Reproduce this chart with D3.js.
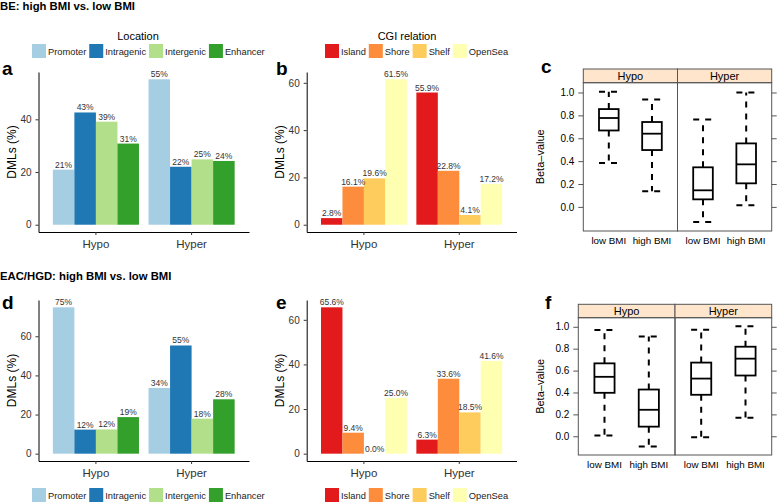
<!DOCTYPE html>
<html><head><meta charset="utf-8">
<script src="https://cdn.jsdelivr.net/npm/d3@7"></script>
<style>
body{margin:0;background:#fff}
svg{display:block}
text{font-family:"Liberation Sans",Arial,Helvetica,sans-serif}
</style>
</head><body>
<svg id="fig" width="778" height="504"></svg>
<script>
// ---------------- data ----------------
const groups = ["Hypo", "Hyper"];
const locCats = ["Promoter", "Intragenic", "Intergenic", "Enhancer"];
const locColors = ["#a6cee3", "#1f78b4", "#b2df8a", "#33a02c"];
const cgiCats = ["Island", "Shore", "Shelf", "OpenSea"];
const cgiColors = ["#e31a1c", "#fd8d3c", "#fecc5c", "#ffffb2"];

// panel a (BE, location)
const beLocHypo = [20.9, 42.6, 39.1, 30.8];
const beLocHyper = [55.2, 22.0, 24.8, 24.2];
// panel b (BE, CGI)
const beCgiHypo = [2.8, 16.1, 19.6, 61.5];
const beCgiHyper = [55.9, 22.8, 4.1, 17.2];
// panel d (EAC/HGD, location)
const eacLocHypo = [74.8, 12.3, 12.4, 18.7];
const eacLocHyper = [33.6, 55.3, 17.9, 27.8];
// panel e (EAC/HGD, CGI)
const eacCgiHypo = [65.6, 9.4, 0.0, 25.0];
const eacCgiHyper = [6.3, 33.6, 18.5, 41.6];

const pctTicks = [0, 20, 40, 60];

// box stats: [lower whisker, Q1, median, Q3, upper whisker]
const bmiCats = ["low BMI", "high BMI"];
const beBoxHypo = [[0.384, 0.668, 0.777, 0.855, 1.006], [0.136, 0.497, 0.640, 0.742, 0.939]];
const beBoxHyper = [[-0.131, 0.066, 0.145, 0.346, 0.765], [0.014, 0.206, 0.372, 0.555, 1.000]];
const eacBoxHypo = [[0.006, 0.397, 0.543, 0.666, 0.970], [-0.094, 0.088, 0.242, 0.427, 0.912]];
const eacBoxHyper = [[-0.009, 0.379, 0.527, 0.673, 0.973], [0.170, 0.555, 0.709, 0.818, 1.006]];
const betaTicks = [0, 0.2, 0.4, 0.6, 0.8, 1.0];

// ---------------- drawing ----------------
const svg = d3.select("#fig");
const FONT = '"Liberation Sans",Arial,Helvetica,sans-serif';

function barPanel(o) {
  const g = svg.append("g");
  const vals = [o.hypo, o.hyper];
  const maxV = d3.max(vals.flat());
  const y = d3.scaleLinear().domain([-0.05 * maxV, 1.05 * maxV]).range([o.yb, o.yt]);
  const x = d3.scaleBand().domain(groups).range([o.xl, o.xr]).paddingInner(0.1).paddingOuter(0.15);
  const xs = d3.scaleBand().domain(o.cats).range([0, x.bandwidth()]);

  groups.forEach((grp, gi) => {
    const gg = g.append("g").attr("transform", `translate(${x(grp)},0)`);
    gg.selectAll("rect").data(vals[gi]).join("rect")
      .attr("x", (d, i) => xs(o.cats[i]))
      .attr("width", xs.bandwidth())
      .attr("y", d => y(d))
      .attr("height", d => y(0) - y(d))
      .attr("fill", (d, i) => o.colors[i]);
    gg.selectAll("text").data(vals[gi]).join("text")
      .attr("x", (d, i) => xs(o.cats[i]) + xs.bandwidth() / 2)
      .attr("y", d => y(d) - 2)
      .attr("text-anchor", "middle")
      .attr("font-size", 8.5)
      .attr("fill", "#333")
      .text(d => d3.format(o.fmt)(d) + "%");
  });

  const ya = g.append("g").attr("transform", `translate(${o.xl},0)`)
    .call(d3.axisLeft(y).tickValues(pctTicks.filter(t => t <= 1.05 * maxV)).tickSize(3).tickPadding(4).tickSizeOuter(0));
  const xa = g.append("g").attr("transform", `translate(0,${o.yb})`)
    .call(d3.axisBottom(x).tickSize(3).tickPadding(5).tickSizeOuter(0));
  [ya, xa].forEach(a => {
    a.select(".domain").attr("stroke", "#000").attr("stroke-width", 1);
    a.selectAll(".tick line").attr("stroke", "#333");
    a.selectAll("text").attr("font-family", FONT).attr("fill", "#333");
  });
  ya.selectAll("text").attr("font-size", 10);
  xa.selectAll("text").attr("font-size", 11.5);

  g.append("text")
    .attr("transform", `translate(${o.xl - 23},${(o.yt + o.yb) / 2}) rotate(-90)`)
    .attr("text-anchor", "middle")
    .attr("font-size", 12)
    .attr("fill", "#000")
    .text("DMLs (%)");

  g.append("text").attr("x", o.lx).attr("y", o.ly)
    .attr("font-size", 19).attr("font-weight", "bold").text(o.label);
}

function legend(o) {
  const g = svg.append("g");
  if (o.title) {
    g.append("text").attr("x", o.tx).attr("y", o.ty).attr("text-anchor", "middle")
      .attr("font-size", 11).text(o.title);
  }
  let cx = o.x;
  o.cats.forEach((c, i) => {
    g.append("rect").attr("x", cx).attr("y", o.y).attr("width", 14).attr("height", 14)
      .attr("fill", o.colors[i]);
    const t = g.append("text").attr("x", cx + 16).attr("y", o.y + 11)
      .attr("font-size", 9.3).attr("fill", "#222").text(c);
    cx += 16 + t.node().getComputedTextLength() + 3;
  });
}

function boxPanel(o) {
  const g = svg.append("g");
  const all = [o.hypo, o.hyper].flat(2);
  const lo = d3.min(all), hi = d3.max(all), ext = (hi - lo) * 0.07;
  const y = d3.scaleLinear().domain([lo - ext, hi + ext]).range([o.yb, o.st2]);
  const mid = (o.xl + o.xr) / 2;
  const cols = [[o.xl, mid, "Hypo", o.hypo], [mid, o.xr, "Hyper", o.hyper]];

  cols.forEach(([a, b, name, stats]) => {
    const x = d3.scaleBand().domain(bmiCats).range([a, b]).paddingInner(0.5454).paddingOuter(0.3636);
    // strip
    g.append("rect").attr("x", a).attr("y", o.st1).attr("width", b - a).attr("height", o.st2 - o.st1)
      .attr("fill", "#ffe5cc").attr("stroke", "#555");
    g.append("text").attr("x", (a + b) / 2).attr("y", (o.st1 + o.st2) / 2 + 4)
      .attr("text-anchor", "middle").attr("font-size", 11).text(name);
    stats.forEach((s, i) => {
      const bx = x(bmiCats[i]), bw = x.bandwidth(), cx = bx + bw / 2;
      const dash = "6,6";
      // whiskers
      g.append("line").attr("x1", cx).attr("x2", cx).attr("y1", y(s[3])).attr("y2", y(s[4]))
        .attr("stroke", "#000").attr("stroke-width", 2).attr("stroke-dasharray", dash);
      g.append("line").attr("x1", cx).attr("x2", cx).attr("y1", y(s[1])).attr("y2", y(s[0]))
        .attr("stroke", "#000").attr("stroke-width", 2).attr("stroke-dasharray", dash);
      [s[0], s[4]].forEach(v => {
        g.append("line").attr("x1", bx).attr("x2", bx + bw).attr("y1", y(v)).attr("y2", y(v))
          .attr("stroke", "#000").attr("stroke-width", 2).attr("stroke-dasharray", dash);
      });
      // box
      g.append("rect").attr("x", bx).attr("y", y(s[3])).attr("width", bw).attr("height", y(s[1]) - y(s[3]))
        .attr("fill", "none").attr("stroke", "#000").attr("stroke-width", 1.8);
      g.append("line").attr("x1", bx).attr("x2", bx + bw).attr("y1", y(s[2])).attr("y2", y(s[2]))
        .attr("stroke", "#000").attr("stroke-width", 1.8);
      g.append("text").attr("x", cx).attr("y", o.yb + 13).attr("text-anchor", "middle")
        .attr("font-size", 9.8).text(bmiCats[i]);
    });
    g.append("rect").attr("x", a).attr("y", o.st2).attr("width", b - a).attr("height", o.yb - o.st2)
      .attr("fill", "none").attr("stroke", "#555");
  });

  const ya = g.append("g").attr("transform", `translate(${o.xl},0)`)
    .call(d3.axisLeft(y).tickValues(betaTicks).tickFormat(d3.format(".1f")).tickSize(5).tickPadding(4).tickSizeOuter(0));
  const yr = g.append("g").attr("transform", `translate(${o.xr},0)`)
    .call(d3.axisRight(y).tickValues(betaTicks).tickSize(5).tickFormat("").tickSizeOuter(0));
  [ya, yr].forEach(a => {
    a.select(".domain").remove();
    a.selectAll(".tick line").attr("stroke", "#555");
  });
  ya.selectAll("text").attr("font-family", FONT).attr("font-size", 10).attr("fill", "#000");

  g.append("text")
    .attr("transform", `translate(${o.tlx},${(o.st2 + o.yb) / 2}) rotate(-90)`)
    .attr("text-anchor", "middle").attr("font-size", 11).text("Beta\u2013value");

  g.append("text").attr("x", o.lx).attr("y", o.ly)
    .attr("font-size", 19).attr("font-weight", "bold").text(o.label);
}

// titles
svg.append("text").attr("x", 0).attr("y", 10).attr("font-size", 11.3).attr("font-weight", "bold")
  .text("BE: high BMI vs. low BMI");
svg.append("text").attr("x", 0).attr("y", 280).attr("font-size", 11.3).attr("font-weight", "bold")
  .text("EAC/HGD: high BMI vs. low BMI");

// legends
legend({x: 32, y: 44, cats: locCats, colors: locColors, title: "Location", tx: 138, ty: 40});
legend({x: 325, y: 44, cats: cgiCats, colors: cgiColors, title: "CGI relation", tx: 407, ty: 40});
legend({x: 32, y: 488, cats: locCats, colors: locColors});
legend({x: 325, y: 488, cats: cgiCats, colors: cgiColors});

// bar panels
barPanel({xl: 38.5, xr: 249, yt: 72, yb: 232, cats: locCats, colors: locColors,
  hypo: beLocHypo, hyper: beLocHyper, fmt: ".0f", label: "a", lx: 2, ly: 75});
barPanel({xl: 306.7, xr: 516.5, yt: 72, yb: 232, cats: cgiCats, colors: cgiColors,
  hypo: beCgiHypo, hyper: beCgiHyper, fmt: ".1f", label: "b", lx: 276, ly: 75});
barPanel({xl: 38.5, xr: 249, yt: 300, yb: 461, cats: locCats, colors: locColors,
  hypo: eacLocHypo, hyper: eacLocHyper, fmt: ".0f", label: "d", lx: 2, ly: 309});
barPanel({xl: 306.7, xr: 516.5, yt: 300, yb: 461, cats: cgiCats, colors: cgiColors,
  hypo: eacCgiHypo, hyper: eacCgiHyper, fmt: ".1f", label: "e", lx: 276, ly: 309});

// box panels
boxPanel({xl: 583.3, xr: 771.7, st1: 69, st2: 82.7, yb: 231, hypo: beBoxHypo, hyper: beBoxHyper,
  label: "c", lx: 541, ly: 73, tlx: 544});
boxPanel({xl: 578.3, xr: 771.7, st1: 304.3, st2: 317.7, yb: 455, hypo: eacBoxHypo, hyper: eacBoxHyper,
  label: "f", lx: 545, ly: 309, tlx: 544});
</script>
</body></html>
